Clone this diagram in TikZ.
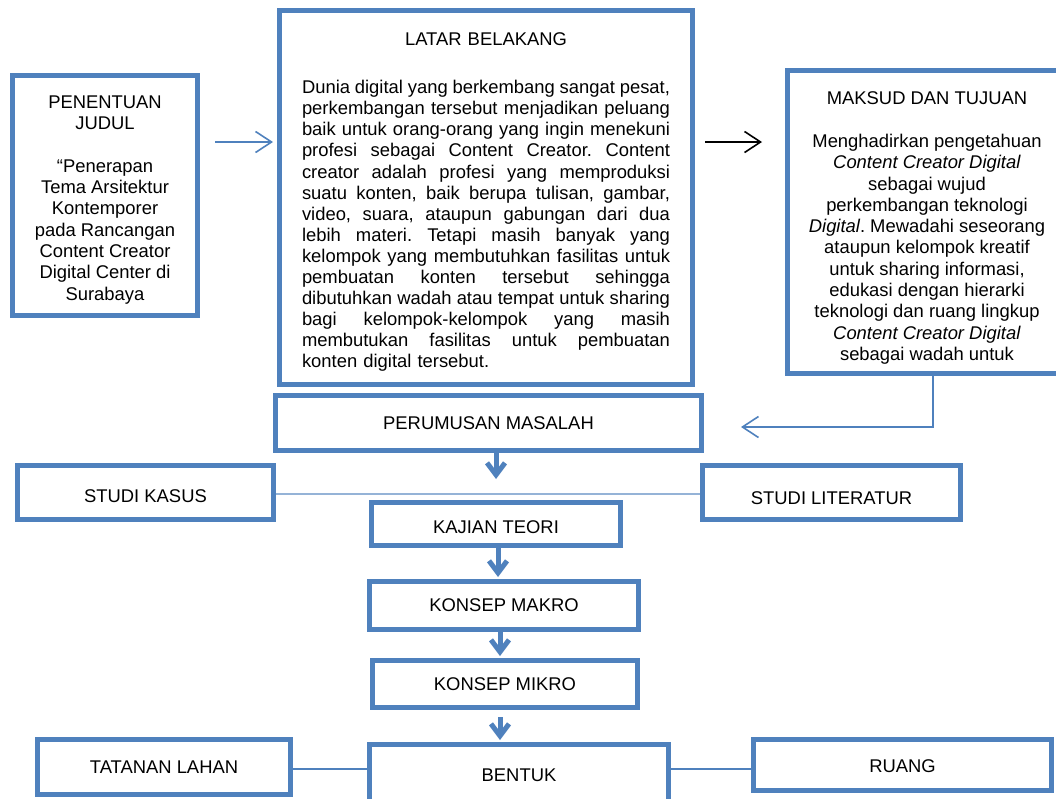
\documentclass[tikz,border=0pt]{standalone}
\usepackage{fontspec}
\setmainfont{Liberation Sans}
\usetikzlibrary{arrows.meta}
\definecolor{boxblue}{HTML}{4F81BD}
\newcommand\jl[1]{\leavevmode\hbox to 368pt{\spaceskip=0.278em plus 1fil minus 0.12em\relax #1}}
\tikzset{
  box/.style={draw=boxblue, line width=5pt, inner sep=0pt, align=center, fill=white,
    font=\fontsize{18.4}{21.3}\selectfont\frenchspacing},
  thinarrow/.style={draw=boxblue, line width=1.6pt, -{Straight Barb[length=16pt,width=21pt]}},
  blackarrow/.style={draw=black, line width=1.6pt, -{Straight Barb[length=16pt,width=21pt]}},
  thickarrow/.style={draw=boxblue, line width=5pt, -{Straight Barb[length=12pt,width=18pt]}},
  joinline/.style={draw=boxblue, line width=1.8pt},
  faintline/.style={draw=boxblue!60, line width=1.2pt}
}
\begin{document}
\begin{tikzpicture}[x=1pt,y=-1pt]
\useasboundingbox (0,0) rectangle (1056,798);
\fill[white] (0,0) rectangle (1056,798);
\clip (0,0) rectangle (1056,798);

\node[box, minimum width=185pt, minimum height=240pt] (judul) at (105,195.5)
  {\rule{0pt}{21.2pt}PENENTUAN\\JUDUL\\[21.3pt]“Penerapan\\Tema Arsitektur\\Kontemporer\\pada Rancangan\\Content Creator\\Digital Center di\\Surabaya};

\node[box, minimum width=413pt, minimum height=374pt, text width=368pt,
  font=\fontsize{18.4}{21.1}\selectfont\frenchspacing] (latar) at (486,197.5)
  {\rule{0pt}{22.4pt}LATAR BELAKANG\\[26.9pt]%
  \jl{Dunia digital yang berkembang sangat pesat,}\\
  \jl{perkembangan tersebut menjadikan peluang}\\
  \jl{baik untuk orang-orang yang ingin menekuni}\\
  \jl{profesi sebagai Content Creator. Content}\\
  \jl{creator adalah profesi yang memproduksi}\\
  \jl{suatu konten, baik berupa tulisan, gambar,}\\
  \jl{video, suara, ataupun gabungan dari dua}\\
  \jl{lebih materi. Tetapi masih banyak yang}\\
  \jl{kelompok yang membutuhkan fasilitas untuk}\\
  \jl{pembuatan konten tersebut sehingga}\\
  \jl{dibutuhkan wadah atau tempat untuk sharing}\\
  \jl{bagi kelompok-kelompok yang masih}\\
  \jl{membutukan fasilitas untuk pembuatan}\\
  \makebox[368pt][l]{konten digital tersebut.}};

\node[box, minimum width=279pt, minimum height=303pt] (maksud) at (927,222)
  {\rule{0pt}{25.2pt}MAKSUD DAN TUJUAN\\[21.3pt]Menghadirkan pengetahuan\\\textit{Content Creator Digital}\\sebagai wujud\\perkembangan teknologi\\\textit{Digital}. Mewadahi seseorang\\ataupun kelompok kreatif\\untuk sharing informasi,\\edukasi dengan hierarki\\teknologi dan ruang lingkup\\\textit{Content Creator Digital}\\sebagai wadah untuk};

\node[box, minimum width=426pt, minimum height=55pt] (perumusan) at (488.5,423) {PERUMUSAN MASALAH};
\node[box, minimum width=256pt, minimum height=54pt, text height=19.2pt] (kasus) at (145.5,492.5) {STUDI KASUS};
\node[box, minimum width=258pt, minimum height=54pt, text height=25pt] (lit) at (831.5,492.5) {STUDI LITERATUR};
\node[box, minimum width=249pt, minimum height=43pt, text height=19pt] (kajian) at (496,524) {KAJIAN TEORI};
\node[box, minimum width=269pt, minimum height=48pt] (makro) at (504,605.5) {KONSEP MAKRO};
\node[box, minimum width=265pt, minimum height=47pt] (mikro) at (505,684) {KONSEP MIKRO};
\node[box, minimum width=299pt, minimum height=61pt] (bentuk) at (519,775) {BENTUK};
\node[box, minimum width=253pt, minimum height=55pt] (tatanan) at (164,767) {TATANAN LAHAN};
\node[box, minimum width=298pt, minimum height=51pt, text height=15pt] (ruang) at (902.5,765) {RUANG};

% coordinates for free ends
\coordinate (j1) at (215,142);
\coordinate (j2) at (273,142);
\coordinate (b1) at (705,142);
\coordinate (b2) at (762,142);
\coordinate (m1) at (933,0);
\coordinate (m2) at (741,427);
\coordinate (p1) at (496,479);
\coordinate (c1) at (498,0);
\coordinate (c2) at (500,0);
\coordinate (yk) at (0,494);
\coordinate (yl) at (0,769);

\draw[thinarrow] (j1) -- (j2);
\draw[blackarrow] (b1) -- (b2);
\draw[thinarrow] (maksud.south -| m1) |- (m2);
\draw[faintline] (kasus.east |- yk) -- (lit.west |- yk);
\draw[thickarrow] ([yshift=2pt]perumusan.south -| p1) -- (p1);
\draw[thickarrow] (kajian.south -| c1) -- ([yshift=2pt]makro.north -| c1);
\draw[thickarrow] (makro.south -| c2) -- ([yshift=2pt]mikro.north -| c2);
\draw[thickarrow] ([yshift=-7pt]mikro.south -| c2) -- ([yshift=2pt]bentuk.north -| c2);
\draw[joinline] (tatanan.east |- yl) -- (bentuk.west |- yl);
\draw[joinline] (bentuk.east |- yl) -- (ruang.west |- yl);
\end{tikzpicture}
\end{document}
